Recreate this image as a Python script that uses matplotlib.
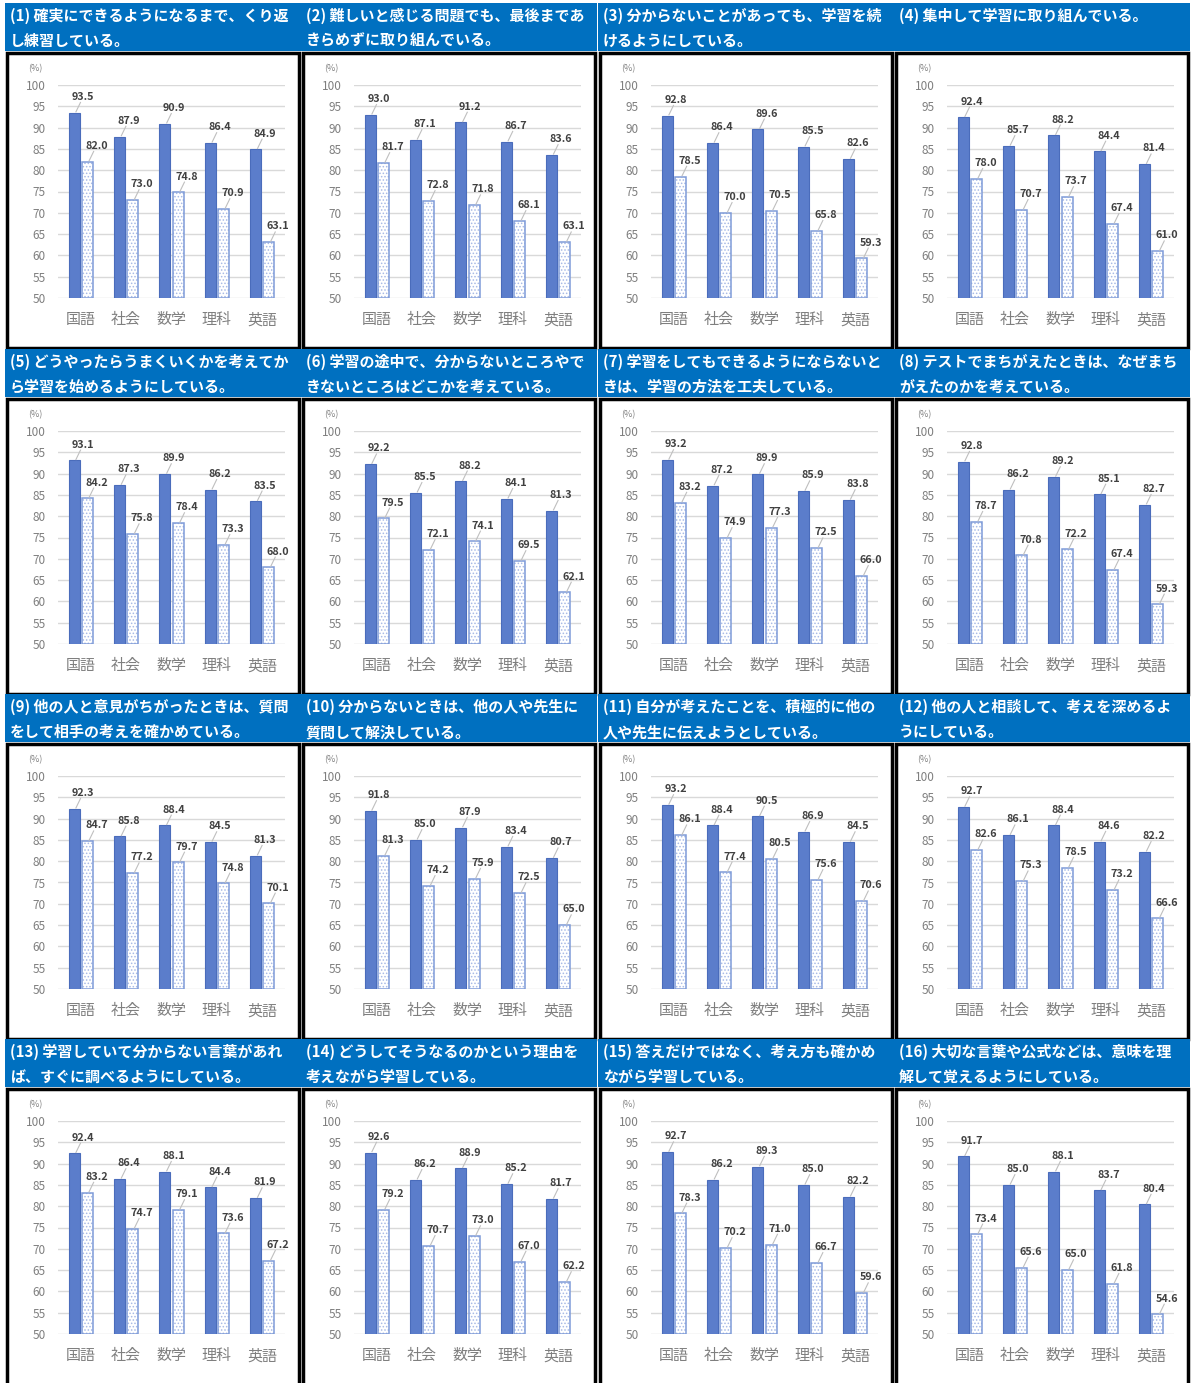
import matplotlib
matplotlib.use("Agg")
import matplotlib.pyplot as plt
from matplotlib.patches import Rectangle
import numpy as np

plt.rcParams['font.family'] = ['Noto Sans CJK JP', 'DejaVu Sans']
plt.rcParams['hatch.linewidth'] = 0.7

subjects = ['国語', '社会', '数学', '理科', '英語']

titles = [
    ("(1) 確実にできるようになるまで、くり返", "し練習している。"),
    ("(2) 難しいと感じる問題でも、最後まであ", "きらめずに取り組んでいる。"),
    ("(3) 分からないことがあっても、学習を続", "けるようにしている。"),
    ("(4) 集中して学習に取り組んでいる。", ""),
    ("(5) どうやったらうまくいくかを考えてか", "ら学習を始めるようにしている。"),
    ("(6) 学習の途中で、分からないところやで", "きないところはどこかを考えている。"),
    ("(7) 学習をしてもできるようにならないと", "きは、学習の方法を工夫している。"),
    ("(8) テストでまちがえたときは、なぜまち", "がえたのかを考えている。"),
    ("(9) 他の人と意見がちがったときは、質問", "をして相手の考えを確かめている。"),
    ("(10) 分からないときは、他の人や先生に", "質問して解決している。"),
    ("(11) 自分が考えたことを、積極的に他の", "人や先生に伝えようとしている。"),
    ("(12) 他の人と相談して、考えを深めるよ", "うにしている。"),
    ("(13) 学習していて分からない言葉があれ", "ば、すぐに調べるようにしている。"),
    ("(14) どうしてそうなるのかという理由を", "考えながら学習している。"),
    ("(15) 答えだけではなく、考え方も確かめ", "ながら学習している。"),
    ("(16) 大切な言葉や公式などは、意味を理", "解して覚えるようにしている。"),
]

series_a = [
    [93.5, 87.9, 90.9, 86.4, 84.9],
    [93.0, 87.1, 91.2, 86.7, 83.6],
    [92.8, 86.4, 89.6, 85.5, 82.6],
    [92.4, 85.7, 88.2, 84.4, 81.4],
    [93.1, 87.3, 89.9, 86.2, 83.5],
    [92.2, 85.5, 88.2, 84.1, 81.3],
    [93.2, 87.2, 89.9, 85.9, 83.8],
    [92.8, 86.2, 89.2, 85.1, 82.7],
    [92.3, 85.8, 88.4, 84.5, 81.3],
    [91.8, 85.0, 87.9, 83.4, 80.7],
    [93.2, 88.4, 90.5, 86.9, 84.5],
    [92.7, 86.1, 88.4, 84.6, 82.2],
    [92.4, 86.4, 88.1, 84.4, 81.9],
    [92.6, 86.2, 88.9, 85.2, 81.7],
    [92.7, 86.2, 89.3, 85.0, 82.2],
    [91.7, 85.0, 88.1, 83.7, 80.4],
]

series_b = [
    [82.0, 73.0, 74.8, 70.9, 63.1],
    [81.7, 72.8, 71.8, 68.1, 63.1],
    [78.5, 70.0, 70.5, 65.8, 59.3],
    [78.0, 70.7, 73.7, 67.4, 61.0],
    [84.2, 75.8, 78.4, 73.3, 68.0],
    [79.5, 72.1, 74.1, 69.5, 62.1],
    [83.2, 74.9, 77.3, 72.5, 66.0],
    [78.7, 70.8, 72.2, 67.4, 59.3],
    [84.7, 77.2, 79.7, 74.8, 70.1],
    [81.3, 74.2, 75.9, 72.5, 65.0],
    [86.1, 77.4, 80.5, 75.6, 70.6],
    [82.6, 75.3, 78.5, 73.2, 66.6],
    [83.2, 74.7, 79.1, 73.6, 67.2],
    [79.2, 70.7, 73.0, 67.0, 62.2],
    [78.3, 70.2, 71.0, 66.7, 59.6],
    [73.4, 65.6, 65.0, 61.8, 54.6],
]

yticks = [50, 55, 60, 65, 70, 75, 80, 85, 90, 95, 100]

W_PX, H_PX = 1192, 1383
fig = plt.figure(figsize=(W_PX / 100, H_PX / 100), dpi=100)
fig.patch.set_facecolor('white')

col_left = [7, 303, 600, 896]
row_top = [3, 349, 694, 1039]
cell_w = 295
head_h = 48

BLUE_HEAD = '#0070C0'
BAR_A = '#5B7DCB'
BAR_A_EDGE = '#4A6CBB'
BAR_B_EDGE = '#7E9BD8'
HATCH_C = '#A8BAE6'
LABEL_C = '#404040'
TICK_C = '#7F7F7F'


def fr(x, y, w, h):
    return (x / W_PX, 1 - (y + h) / H_PX, w / W_PX, h / H_PX)


for i in range(16):
    r, c = divmod(i, 4)
    L = col_left[c]
    T = row_top[r]
    # header
    x, y, w, h = fr(L - 2, T, cell_w + 1, head_h)
    fig.add_artist(Rectangle((x, y), w, h, transform=fig.transFigure,
                             facecolor=BLUE_HEAD, edgecolor='none', zorder=0))
    l1, l2 = titles[i]
    fig.text((L + 3) / W_PX, 1 - (T + 13) / H_PX, l1, color='white',
             fontsize=10.8, fontweight='bold', va='center', ha='left')
    if l2:
        fig.text((L + 3) / W_PX, 1 - (T + 38) / H_PX, l2, color='white',
                 fontsize=10.8, fontweight='bold', va='center', ha='left')
    # chart box
    bottom = T + 345 if r < 3 else H_PX + 5
    x, y, w, h = fr(L, T + head_h + 2, cell_w - 3, bottom - (T + head_h + 2))
    fig.add_artist(Rectangle((x, y), w, h, transform=fig.transFigure,
                             facecolor='white', edgecolor='black',
                             linewidth=2.5, zorder=0))
    # axes
    ax = fig.add_axes(fr(L + 51, T + 82, 227, 213))
    ax.set_facecolor('none')
    xs = np.arange(len(subjects))
    a = series_a[i]
    b = series_b[i]
    bw = 0.245
    off = 0.145
    ax.bar(xs - off, [v - 50 for v in a], bottom=50, width=bw,
           color=BAR_A, edgecolor=BAR_A_EDGE, linewidth=0.8, zorder=3)
    ax.bar(xs + off, [v - 50 for v in b], bottom=50, width=bw,
           facecolor='white', edgecolor=HATCH_C, linewidth=0,
           hatch='.....', zorder=3)
    ax.bar(xs + off, [v - 50 for v in b], bottom=50, width=bw,
           facecolor='none', edgecolor=BAR_B_EDGE, linewidth=1.1, zorder=3.5)
    for k in range(len(subjects)):
        for xb, v in ((xs[k] - off, a[k]), (xs[k] + off, b[k])):
            lx, ly = xb + 0.2, v + 3.7
            ax.plot([xb + 0.04, lx - 0.06], [v + 0.2, ly - 1.3],
                    color='#BFBFBF', lw=0.8, zorder=4, clip_on=False)
            ax.text(lx, ly, f"{v:.1f}", ha='center', va='center',
                    fontsize=7.8, fontweight='bold', color=LABEL_C,
                    zorder=5, clip_on=False)
    ax.set_xlim(-0.5, len(subjects) - 0.5)
    ax.set_ylim(50, 100)
    ax.set_yticks(yticks)
    ax.set_yticklabels([str(t) for t in yticks])
    ax.yaxis.grid(True, color='#D9D9D9', linewidth=1.0, zorder=0)
    ax.set_axisbelow(True)
    ax.set_xticks(xs)
    ax.set_xticklabels(subjects)
    ax.tick_params(axis='y', length=0, pad=9, labelsize=8.5, labelcolor=TICK_C)
    ax.tick_params(axis='x', length=0, pad=11, labelsize=10.8, labelcolor=TICK_C)
    for s in ax.spines.values():
        s.set_visible(False)
    fig.text((L + 28) / W_PX, 1 - (T + 66) / H_PX, '(%)', fontsize=6.5,
             color=TICK_C, ha='center', va='center')

fig.savefig('out.png', dpi=100)
